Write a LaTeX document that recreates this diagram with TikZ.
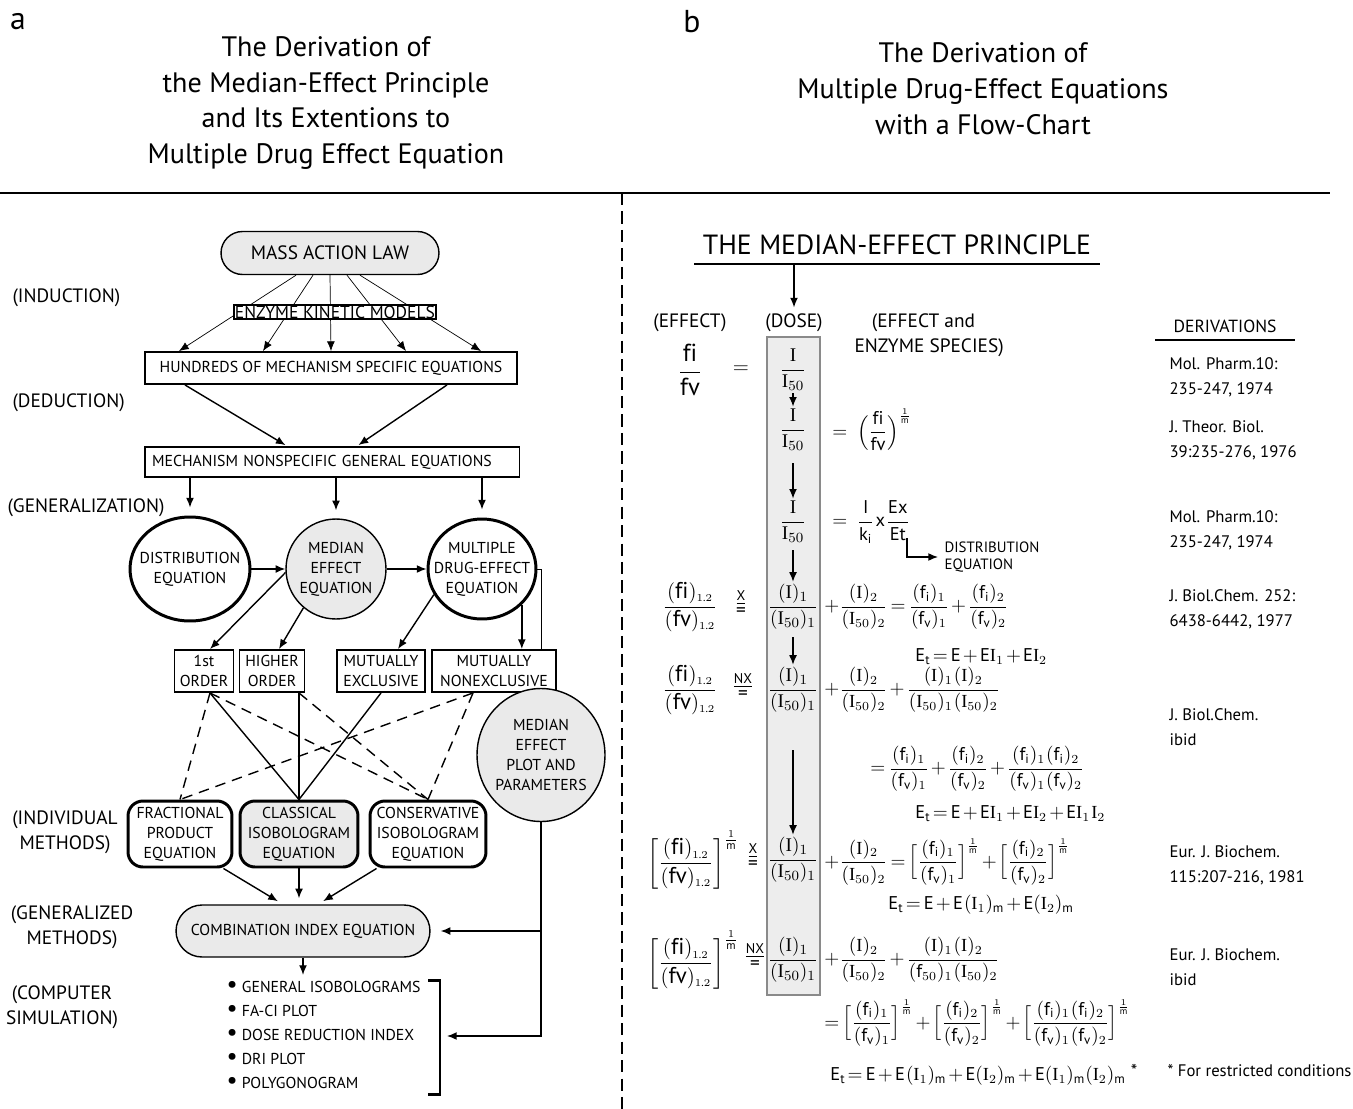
\documentclass[tikz,border=0pt]{standalone}
\usepackage{amsmath}
\usepackage{fontspec}
\setmainfont{PT Sans}
\newfontfamily\ptmath{PT Sans}[NFSSFamily=ptsansmath]
\DeclareSymbolFont{sansnum}{TU}{ptsansmath}{m}{n}
\SetSymbolFont{sansnum}{bold}{TU}{ptsansmath}{b}{n}
\DeclareMathSymbol{0}{\mathalpha}{sansnum}{"30}
\DeclareMathSymbol{1}{\mathalpha}{sansnum}{"31}
\DeclareMathSymbol{2}{\mathalpha}{sansnum}{"32}
\DeclareMathSymbol{5}{\mathalpha}{sansnum}{"35}
\DeclareMathSymbol{(}{\mathopen}{sansnum}{"28}
\DeclareMathSymbol{)}{\mathclose}{sansnum}{"29}
\DeclareMathSymbol{+}{\mathbin}{sansnum}{"2B}
\DeclareMathSymbol{=}{\mathrel}{sansnum}{"3D}
\DeclareMathSymbol{.}{\mathord}{sansnum}{"2E}
\newfontfamily\serI{Liberation Serif}
\usetikzlibrary{
arrows,
arrows.meta,
backgrounds,
calc,
positioning,
shapes
}
\tikzset{>={Latex[length=5.5pt,width=4.5pt]}}
\definecolor{lightfill}{HTML}{EAEAEA}
\definecolor{colfill}{HTML}{EDEDED}
\definecolor{colline}{HTML}{8A8A8A}
\newcommand{\I}{\text{\serI I}}
\newcommand{\expm}{^{\frac{1}{\mathrm{m}}}}
\newcommand{\fifv}{\dfrac{(\mathrm{fi})_{\scriptscriptstyle 1.2}}{(\mathrm{fv})_{\scriptscriptstyle 1.2}}}
\newcommand{\blt}{{\fontsize{14}{12}\selectfont\textbullet}\ }

\begin{document}
\begin{tikzpicture}[x=0.02cm, y=-0.02cm, line width=0.8pt,
	boxfont/.style={font=\fontsize{9}{11.3}\selectfont, align=center},
	sidelbl/.style={font=\fontsize{11}{14}\selectfont, align=center},
	flatbox/.style={draw, fill=white, line width=1.1pt, boxfont, inner sep=1pt},
	pill/.style={draw, fill=lightfill, boxfont, inner sep=1pt},
	oval/.style={ellipse, draw, line width=1.7pt, fill=white, inner sep=0pt},
	methbox/.style={draw, line width=1.7pt, rounded corners=0.3cm, boxfont, inner sep=0pt, minimum height=1.32cm},
	dashln/.style={dash pattern=on 6pt off 4pt},
	eqn/.style={font=\fontsize{10.5}{12}\selectfont, inner sep=1pt, execute at begin node={\thinmuskip=1mu\medmuskip=2mu\thickmuskip=3mu}},
	bigeqn/.style={eqn, font=\fontsize{13}{15}\selectfont},
	colfrac/.style={eqn, font=\fontsize{11}{13}\selectfont},
	releq/.style={font=\fontsize{11}{12}\selectfont, inner sep=0pt},
	relmark/.style={font=\fontsize{8}{8}\selectfont, inner sep=0pt, above=1.2pt of #1},
	refs/.style={font=\fontsize{9.5}{14.2}\selectfont, align=left, anchor=west},
	paneltitle/.style={font=\fontsize{16}{20.4}\selectfont, align=center}]
\useasboundingbox (0,0) rectangle (1353,1109);

\node[font=\fontsize{18}{20}\selectfont] (pa) at (18,22) {a};
\node[font=\fontsize{18}{20}\selectfont] (pb) at (692,22) {b};
\node[paneltitle] (ta) at (326,103) {The Derivation of\\the Median-Effect Principle\\and Its Extentions to\\Multiple Drug Effect Equation};
\node[paneltitle] (tb) at (983,89) {The Derivation of\\Multiple Drug-Effect Equations\\with a Flow-Chart};
\draw[line width=1.7pt] (0,193) -- (1330,193);
\draw[line width=1.4pt, dash pattern=on 7pt off 3.5pt] (622,193) -- (622,1109);

\node[pill, rounded corners=0.43cm, minimum width=4.36cm, minimum height=0.86cm, font=\fontsize{11}{13}\selectfont] (mal) at (330,253) {MASS ACTION LAW};
\node[flatbox, font=\fontsize{10}{12}\selectfont, inner sep=0.5pt] (ekm) at (335,312) {ENZYME KINETIC MODELS};
\node[flatbox, minimum width=7.44cm, minimum height=0.64cm] (hund) at (331,368) {HUNDREDS OF MECHANISM SPECIFIC EQUATIONS};
\node[flatbox, minimum width=7.5cm, minimum height=0.6cm, text width=7.2cm, align=left] (nonsp) at (332,462) {MECHANISM NONSPECIFIC GENERAL EQUATIONS};
\node[oval, minimum width=2.4cm, minimum height=2.08cm, label={[boxfont]center:{DISTRIBUTION\\EQUATION}}] (dist) at (190,569) {};
\node[circle, draw, fill=lightfill, minimum size=2cm, inner sep=0pt, label={[boxfont]center:{MEDIAN\\EFFECT\\EQUATION}}] (medeq) at (336,569) {};
\node[oval, minimum width=2.16cm, minimum height=2cm, label={[boxfont]center:{MULTIPLE\\DRUG-EFFECT\\EQUATION}}] (multeq) at (482,569) {};
\node[flatbox, minimum width=1.18cm, minimum height=0.84cm] (ord1) at (204,671) {1st\\ORDER};
\node[flatbox, minimum width=1.3cm, minimum height=0.84cm] (ordh) at (272,671) {HIGHER\\ORDER};
\node[flatbox, minimum width=1.76cm, minimum height=0.84cm] (mex) at (381,671) {MUTUALLY\\EXCLUSIVE};
\node[flatbox, minimum width=2.48cm, minimum height=0.84cm] (mnex) at (494,671) {MUTUALLY\\NONEXCLUSIVE};
\node[ellipse, draw, fill=lightfill, minimum width=2.56cm, minimum height=2.66cm, inner sep=0pt, label={[boxfont]center:{MEDIAN\\EFFECT\\PLOT AND\\PARAMETERS}}] (mplot) at (541,755) {};
\node[methbox, fill=white, minimum width=2.08cm] (frac) at (180,834) {FRACTIONAL\\PRODUCT\\EQUATION};
\node[methbox, fill=lightfill, minimum width=2.36cm] (clas) at (299,834) {CLASSICAL\\ISOBOLOGRAM\\EQUATION};
\node[methbox, fill=white, minimum width=2.32cm] (cons) at (428,834) {CONSERVATIVE\\ISOBOLOGRAM\\EQUATION};
\node[pill, rounded corners=0.52cm, minimum width=5.08cm, minimum height=1.04cm] (ci) at (303,931) {COMBINATION INDEX EQUATION};
\node[boxfont, align=left, anchor=west, font=\fontsize{9}{13.6}\selectfont] (sims) at (220,1035) {\blt GENERAL ISOBOLOGRAMS\\\blt FA-CI PLOT\\\blt DOSE REDUCTION INDEX\\\blt DRI PLOT\\\blt POLYGONOGRAM};
\coordinate (brk) at (447,1036);

\node[sidelbl, anchor=west] (lind) at (6,298) {(INDUCTION)};
\node[sidelbl, anchor=west] (lded) at (6,403) {(DEDUCTION)};
\node[sidelbl, anchor=west] (lgen) at (1,508) {(GENERALIZATION)};
\node[sidelbl] (lindiv) at (65,832) {(INDIVIDUAL\\METHODS)};
\node[sidelbl] (lgenm) at (72,927) {(GENERALIZED\\METHODS)};
\node[sidelbl] (lcomp) at (62,1007) {(COMPUTER\\SIMULATION)};

\begin{scope}[on background layer]
\foreach \s/\e in {-34/-152,-17/-68,0/0,17/75,30/150}
	\draw[->] ($(mal.south)+(\s,0)$) -- ($(hund.north)+(\e,0)$);
\draw (multeq.east) -| (mplot.north);
\end{scope}
\draw[->, shorten >=1pt] ($(hund.south)+(-146,0)$) -- ($(nonsp.north)+(-45,0)$);
\draw[->, shorten >=1pt] ($(hund.south)+(116,0)$) -- ($(nonsp.north)+(25,0)$);
\foreach \n in {dist,medeq,multeq}
	\draw[->, shorten >=0.16cm] (nonsp.south -| \n.north) -- (\n.north);
\draw[->] (dist.east) -- (medeq.west);
\draw[->] (medeq.east) -- (multeq.west);
\draw[->] (medeq.184) -- ($(ord1.north)+(6,0)$);
\draw[->] (medeq.230) -- ($(ordh.north)+(7,0)$);
\draw[->] (multeq.208) -- ($(mex.north)+(17,0)$);
\draw[->] (multeq.318) -- (multeq.318 |- mnex.north);
\draw[dashln] ($(ord1.south)+(6,0)$) -- (frac.north);
\draw ($(ord1.south)+(6,0)$) -- (clas.north);
\draw[dashln] ($(ord1.south)+(6,0)$) -- (cons.north);
\draw (ordh.south -| clas.north) -- (clas.north);
\draw[dashln] (ordh.south -| clas.north) -- (cons.north);
\draw (mex.south) -- (clas.north);
\draw[dashln] ($(mnex.south)+(-21,0)$) -- (frac.north);
\draw[dashln] ($(mnex.south)+(-21,0)$) -- (cons.north);
\draw[->, shorten >=0.12cm] ($(frac.south east)+(-10,0)$) -- ($(ci.north)+(-20,0)$);
\draw[->, shorten >=0.12cm] (clas.south) -- (clas.south |- ci.north);
\draw[->, shorten >=0.12cm] ($(cons.south west)+(8,0)$) -- ($(ci.north)+(15,0)$);
\draw[->] (ci.south) -- (ci.south |- sims.north);
\draw[->] (mplot.south) |- (brk);
\draw[->] (mplot.south |- ci.east) -- ($(ci.east)+(10,0)$);
\draw[line width=1.7pt] (428,980) -| (440,1094) -- (428,1094);

\node[font=\fontsize{15.8}{17}\selectfont] (mep) at (897,245) {THE MEDIAN-EFFECT PRINCIPLE};
\coordinate (ulL) at (694,264);
\coordinate (ulR) at (1100,264);
\draw[line width=1.7pt] (ulL) -- (ulR);
\node[font=\fontsize{11}{14.2}\selectfont] (eff) at (690,323) {(EFFECT)};
\node[font=\fontsize{11}{14.2}\selectfont] (dose) at (794,323) {(DOSE)};
\node[font=\fontsize{11}{14.2}\selectfont, align=left, anchor=west] (spec) at (848,335) {\hspace*{0.9em}(EFFECT and\\ENZYME SPECIES)};
\draw[->] (ulL -| dose.north) -- (dose.north);
\node[font=\fontsize{10}{12}\selectfont] (derv) at (1225,326) {DERIVATIONS};
\draw[line width=1.5pt] (1155,340) -- (1295,340);

\draw[colline, fill=colfill, line width=1.2pt] (767,337) rectangle (820,995);

\node[colfrac] (d1) at (793,370) {$\dfrac{\I}{\I_{50}}$};
\node[colfrac] (d2) at (793,430) {$\dfrac{\I}{\I_{50}}$};
\node[colfrac] (d3) at (793,522) {$\dfrac{\I}{\I_{50}}$};
\node[colfrac] (d4) at (793,607) {$\dfrac{(\I)_1}{(\I_{50})_1}$};
\node[colfrac] (d5) at (793,690) {$\dfrac{(\I)_1}{(\I_{50})_1}$};
\node[colfrac] (d6) at (793,860) {$\dfrac{(\I)_1}{(\I_{50})_1}$};
\node[colfrac] (d7) at (793,960) {$\dfrac{(\I)_1}{(\I_{50})_1}$};
\draw[->] (d1.south) -- (d2.north);
\draw[->, shorten <=0.2cm] (d2.south) -- (d3.north);
\draw[->, shorten <=0.1cm] (d3.south) -- (d4.north);
\draw[->, shorten <=0.1cm] (d4.south) -- (d5.north);
\draw[->, shorten <=0.7cm] (d5.south) -- (d6.north);

\node[bigeqn, font=\fontsize{14}{15}\selectfont] (lhs1) at (690,370) {$\dfrac{\mathrm{fi}}{\mathrm{fv}}$};
\node[eqn, font=\fontsize{12}{14}\selectfont] (eq1) at (741,370) {$=$};
\node[eqn, anchor=west] (r2) at (830,430) {$=\;\;\Bigl(\dfrac{\mathrm{fi}}{\mathrm{fv}}\Bigr)\expm$};
\node[eqn, anchor=west] (r3) at (830,522) {$=\;\;\dfrac{\mathrm{I}}{\mathrm{k}_{\mathrm{i}}}\,\mathrm{x}\,\dfrac{\mathrm{Ex}}{\mathrm{Et}}$};
\coordinate (kink) at (907,538);
\node[font=\fontsize{8.5}{10}\selectfont, align=left, anchor=west] (diseq) at (938,557) {DISTRIBUTION\\EQUATION};
\draw[->] (kink) |- (diseq.west);

\node[bigeqn] (lhs4) at (690,607) {$\fifv$};
\node[releq] (rel4) at (741,612) {=};
\node[relmark=rel4] (rel4x) {\underline{X}};
\node[eqn, anchor=west] (r4) at (822,607) {$+\dfrac{(\I)_2}{(\I_{50})_2}=\dfrac{(\mathrm{f_i})_1}{(\mathrm{f_v})_1}+\dfrac{(\mathrm{f_i})_2}{(\mathrm{f_v})_2}$};
\node[eqn, anchor=west] (e4) at (913,657) {$\mathrm{E_t}\!=\mathrm{E}+\mathrm{E}\I_1+\mathrm{E}\I_2$};

\node[bigeqn] (lhs5) at (690,690) {$\fifv$};
\node[releq] (rel5) at (743,695) {=};
\node[relmark=rel5] (rel5x) {\underline{NX}};
\node[eqn, anchor=west] (r5) at (822,690) {$+\dfrac{(\I)_2}{(\I_{50})_2}+\dfrac{(\I)_1\,(\I)_2}{(\I_{50})_1\,(\I_{50})_2}$};
\node[eqn, anchor=west] (r5b) at (868,769) {$=\dfrac{(\mathrm{f_i})_1}{(\mathrm{f_v})_1}+\dfrac{(\mathrm{f_i})_2}{(\mathrm{f_v})_2}+\dfrac{(\mathrm{f_i})_1\,(\mathrm{f_i})_2}{(\mathrm{f_v})_1\,(\mathrm{f_v})_2}$};
\node[eqn, anchor=west] (e5) at (913,814) {$\mathrm{E_t}\!=\mathrm{E}+\mathrm{E}\I_1+\mathrm{E}\I_2+\mathrm{E}\I_1\,\I_2$};

\node[bigeqn] (lhs6) at (693,860) {$\left[\fifv\right]\expm$};
\node[releq] (rel6) at (753,865) {=};
\node[relmark=rel6] (rel6x) {\underline{X}};
\node[eqn, anchor=west] (r6) at (822,862) {$+\dfrac{(\I)_2}{(\I_{50})_2}=\Bigl[\dfrac{(\mathrm{f_i})_1}{(\mathrm{f_v})_1}\Bigr]\expm+\Bigl[\dfrac{(\mathrm{f_i})_2}{(\mathrm{f_v})_2}\Bigr]\expm$};
\node[eqn, anchor=west] (e6) at (886,905) {$\mathrm{E_t}\!=\mathrm{E}+\mathrm{E}\,(\I_1)_{\mathrm{m}}+\mathrm{E}(\I_2)_{\mathrm{m}}$};

\node[bigeqn] (lhs7) at (693,960) {$\left[\fifv\right]\expm$};
\node[releq] (rel7) at (755,965) {=};
\node[relmark=rel7] (rel7x) {\underline{NX}};
\node[eqn, anchor=west] (r7) at (822,960) {$+\dfrac{(\I)_2}{(\I_{50})_2}+\dfrac{(\I)_1\,(\I)_2}{(\mathrm{f}_{50})_1\,(\I_{50})_2}$};
\node[eqn, anchor=west] (r7b) at (822,1023) {$=\Bigl[\dfrac{(\mathrm{f_i})_1}{(\mathrm{f_v})_1}\Bigr]\expm+\Bigl[\dfrac{(\mathrm{f_i})_2}{(\mathrm{f_v})_2}\Bigr]\expm+\Bigl[\dfrac{(\mathrm{f_i})_1\,(\mathrm{f_i})_2}{(\mathrm{f_v})_1\,(\mathrm{f_v})_2}\Bigr]\expm$};
\node[eqn, anchor=west] (e7) at (828,1075) {$\mathrm{E_t}\!=\mathrm{E}+\mathrm{E}\,(\I_1)_{\mathrm{m}}+\mathrm{E}(\I_2)_{\mathrm{m}}+\mathrm{E}(\I_1)_{\mathrm{m}}(\I_2)_{\mathrm{m}}$\;\raisebox{2pt}{*}};

\node[refs] (ref1) at (1163,377) {Mol. Pharm.10:\\235-247, 1974};
\node[refs] (ref2) at (1163,440) {J. Theor. Biol.\\39:235-276, 1976};
\node[refs] (ref3) at (1163,530) {Mol. Pharm.10:\\235-247, 1974};
\node[refs] (ref4) at (1163,609) {J. Biol.Chem. 252:\\6438-6442, 1977};
\node[refs] (ref5) at (1163,727) {J. Biol.Chem.\\ibid};
\node[refs] (ref6) at (1163,865) {Eur. J. Biochem.\\115:207-216, 1981};
\node[refs] (ref7) at (1163,967) {Eur. J. Biochem.\\ibid};
\node[refs] (ref8) at (1161,1071) {* For restricted conditions};
\end{tikzpicture}
\end{document}
